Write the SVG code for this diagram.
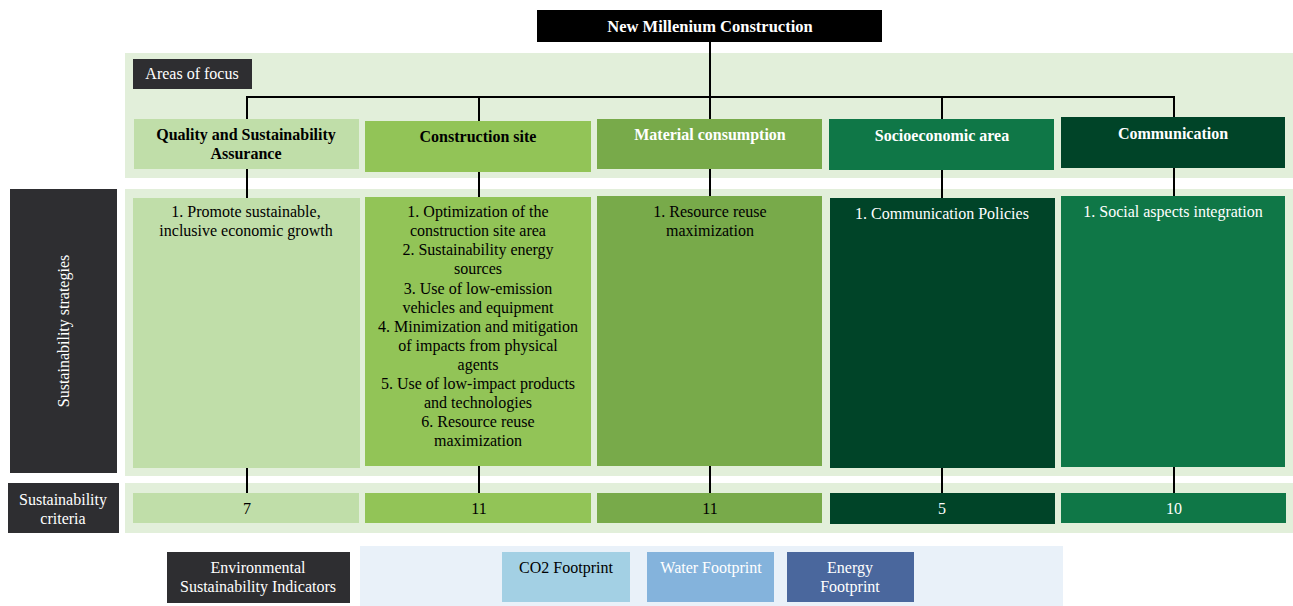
<svg xmlns="http://www.w3.org/2000/svg" width="1293" height="606" viewBox="0 0 1293 606" font-family="'Liberation Serif', 'Times New Roman', 'DejaVu Serif', serif">
<style>
text{font-family:'Liberation Serif','Times New Roman','DejaVu Serif',serif;font-size:16px;text-anchor:middle}
.b{font-weight:bold}
.t{font-size:16.5px}
.w{fill:#ffffff}
.k{fill:#000000}
.band{fill:#e2efda}
.lbl{fill:#2e2e31}
.c1{fill:#c0dea9}
.c2{fill:#92c457}
.c3{fill:#78aa4a}
.c4{fill:#0f7747}
.c5{fill:#004428}
.conn{stroke:#000;stroke-width:2;fill:none}
</style>
<g id="bands">
<rect class="band" x="125" y="53" width="1168" height="125"/>
<rect class="band" x="125" y="189" width="1168" height="287"/>
<rect class="band" x="125" y="483" width="1168" height="50"/>
<rect x="360" y="546" width="703" height="60" fill="#e9f1f9"/>
</g>
<g id="connectors">
<path class="conn" d="M710,42V97M247,97H1174M247,96V119M479,97V121M710,97V119M942,97V119M1174,96V117"/>
<path class="conn" d="M247,169V198M479,172V197M710,169V196M942,170V198M1174,168V196"/>
<path class="conn" d="M247,468V493M479,466V493M710,466V493M942,468V493M1174,467V493"/>
</g>
<g id="title">
<rect x="537" y="10" width="345" height="32" fill="#000"/>
<text class="b w t" x="710" y="32">New Millenium Construction</text>
</g>
<g id="areas-label">
<rect class="lbl" x="133" y="59" width="119" height="30"/>
<text class="w" x="192" y="79">Areas of focus</text>
</g>
<g id="area-quality">
<rect class="c1" x="134" y="119" width="225" height="50"/>
<text class="b k" x="246" y="140">Quality and Sustainability</text>
<text class="b k" x="246" y="159">Assurance</text>
</g>
<g id="area-construction">
<rect class="c2" x="365" y="121" width="226" height="51"/>
<text class="b k" x="478" y="142">Construction site</text>
</g>
<g id="area-material">
<rect class="c3" x="597" y="119" width="225" height="50"/>
<text class="b w" x="710" y="140">Material consumption</text>
</g>
<g id="area-socio">
<rect class="c4" x="829" y="119" width="225" height="51"/>
<text class="b w" x="942" y="141">Socioeconomic area</text>
</g>
<g id="area-communication">
<rect class="c5" x="1061" y="117" width="224" height="51"/>
<text class="b w" x="1173" y="139">Communication</text>
</g>
<g id="strategies-label">
<rect class="lbl" x="10" y="189" width="107" height="284"/>
<text class="w" transform="translate(69,331) rotate(-90)">Sustainability strategies</text>
</g>
<g id="strategy-quality">
<rect class="c1" x="133" y="198" width="227" height="270"/>
<text class="k" x="246" y="217">1. Promote sustainable,</text>
<text class="k" x="246" y="236">inclusive economic growth</text>
</g>
<g id="strategy-construction">
<rect class="c2" x="365" y="197" width="226" height="269"/>
<text class="k" x="478" y="217">1. Optimization of the</text>
<text class="k" x="478" y="236">construction site area</text>
<text class="k" x="478" y="255">2. Sustainability energy</text>
<text class="k" x="478" y="274">sources</text>
<text class="k" x="478" y="294">3. Use of low-emission</text>
<text class="k" x="478" y="313">vehicles and equipment</text>
<text class="k" x="478" y="332">4. Minimization and mitigation</text>
<text class="k" x="478" y="351">of impacts from physical</text>
<text class="k" x="478" y="370">agents</text>
<text class="k" x="478" y="389">5. Use of low-impact products</text>
<text class="k" x="478" y="408">and technologies</text>
<text class="k" x="478" y="427">6. Resource reuse</text>
<text class="k" x="478" y="446">maximization</text>
</g>
<g id="strategy-material">
<rect class="c3" x="597" y="196" width="225" height="270"/>
<text class="k" x="710" y="217">1. Resource reuse</text>
<text class="k" x="710" y="236">maximization</text>
</g>
<g id="strategy-socio">
<rect class="c5" x="830" y="198" width="225" height="270"/>
<text class="w" x="942" y="219">1. Communication Policies</text>
</g>
<g id="strategy-communication">
<rect class="c4" x="1061" y="196" width="224" height="271"/>
<text class="w" x="1173" y="217">1. Social aspects integration</text>
</g>
<g id="criteria-label">
<rect class="lbl" x="8" y="483" width="111" height="50"/>
<text class="w" x="63" y="505">Sustainability</text>
<text class="w" x="63" y="524">criteria</text>
</g>
<g id="criteria-quality">
<rect class="c1" x="133" y="493" width="226" height="30"/>
<text class="k" x="247" y="514">7</text>
</g>
<g id="criteria-construction">
<rect class="c2" x="365" y="493" width="226" height="30"/>
<text class="k" x="479" y="514">11</text>
</g>
<g id="criteria-material">
<rect class="c3" x="597" y="493" width="225" height="30"/>
<text class="k" x="710" y="514">11</text>
</g>
<g id="criteria-socio">
<rect class="c5" x="830" y="493" width="225" height="31"/>
<text class="w" x="942" y="514">5</text>
</g>
<g id="criteria-communication">
<rect class="c4" x="1061" y="493" width="225" height="30"/>
<text class="w" x="1174" y="514">10</text>
</g>
<g id="esi-label">
<rect class="lbl" x="167" y="552" width="183" height="51"/>
<text class="w" x="258" y="573">Environmental</text>
<text class="w" x="258" y="592">Sustainability Indicators</text>
</g>
<g id="co2">
<rect x="502" y="552" width="128" height="50" fill="#a3d0e4"/>
<text class="k" x="566" y="573">CO2 Footprint</text>
</g>
<g id="water">
<rect x="647" y="552" width="127" height="50" fill="#84b3dc"/>
<text class="w" x="711" y="573">Water Footprint</text>
</g>
<g id="energy">
<rect x="787" y="552" width="127" height="50" fill="#4a679d"/>
<text class="w" x="850" y="573">Energy</text>
<text class="w" x="850" y="592">Footprint</text>
</g>
</svg>
